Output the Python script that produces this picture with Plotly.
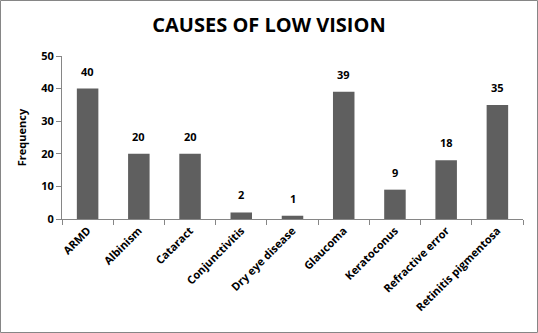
import plotly.graph_objects as go

categories = ["ARMD", "Albinism", "Cataract", "Conjunctivitis", "Dry eye disease",
              "Glaucoma", "Keratoconus", "Refractive error", "Retinitis pigmentosa"]
frequency = [40, 20, 20, 2, 1, 39, 9, 18, 35]
y_ticks = [0, 10, 20, 30, 40, 50]

W, H = 538, 333
ml, mr, mt, mb = 62, 15, 56, 114
pw = W - ml - mr
ph = H - mt - mb

fig = go.Figure(go.Bar(
    x=categories, y=frequency,
    marker=dict(color="#5f5f5f", line=dict(width=0)),
    width=0.42,
))

for c, v in zip(categories, frequency):
    fig.add_annotation(x=c, y=v, text=f"<b>{v}</b>", showarrow=False,
                       yanchor="bottom", yshift=8,
                       font=dict(family="Open Sans", size=11, color="#000000"))

fig.update_layout(
    width=W, height=H,
    margin=dict(l=ml, r=mr, t=mt, b=mb),
    paper_bgcolor="white", plot_bgcolor="white",
    title=dict(text="<b>CAUSES OF LOW VISION</b>", x=0.5, xanchor="center",
               y=1 - 25 / H, yanchor="middle",
               font=dict(family="Open Sans", size=20, color="#000000")),
    showlegend=False,
    xaxis=dict(
        showline=True, linecolor="#868686", linewidth=1,
        ticks="outside", tickson="boundaries", ticklen=5, tickcolor="#868686",
        tickangle=-45,
        tickfont=dict(family="Open Sans", size=11, color="#000000", weight="bold"),
        showgrid=False, zeroline=False,
    ),
    yaxis=dict(
        range=[0, 50], tickvals=y_ticks,
        showline=True, linecolor="#868686", linewidth=1,
        ticks="outside", ticklen=5, tickcolor="#868686",
        tickfont=dict(family="Open Sans", size=11, color="#000000", weight="bold"),
        title=dict(text="Frequency", font=dict(family="Open Sans", size=11, color="#000000", weight="bold"), standoff=12),
        showgrid=False, zeroline=False,
    ),
    shapes=[dict(
        type="rect", xref="paper", yref="paper",
        x0=(0.5 - ml) / pw, x1=(W - 0.5 - ml) / pw,
        y0=-(mb - 0.5) / ph, y1=1 + (mt - 0.5) / ph,
        line=dict(color="#868686", width=1), fillcolor="rgba(0,0,0,0)", layer="below",
    )],
)

fig.write_html("out.html")
